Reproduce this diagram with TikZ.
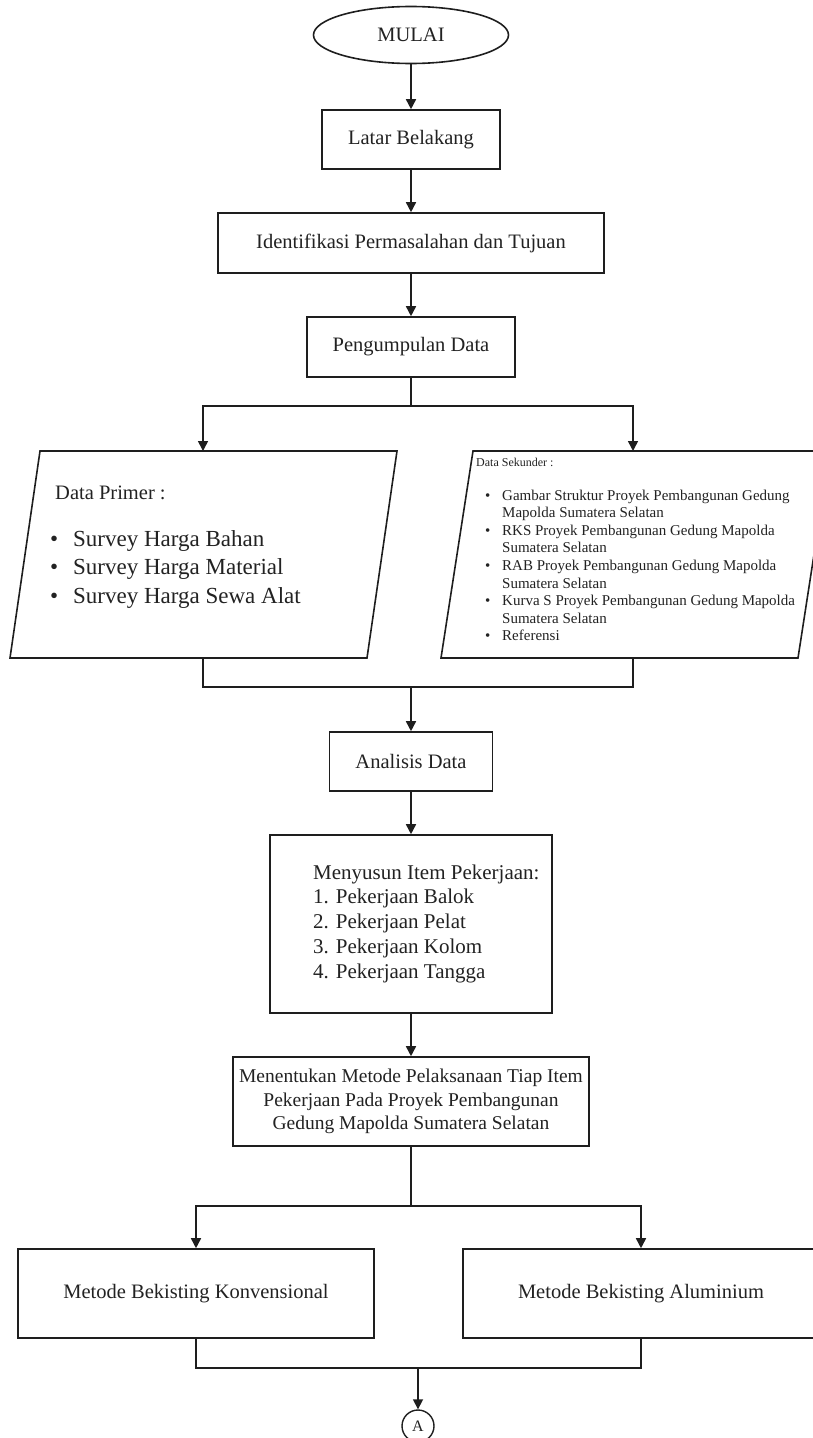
\documentclass[tikz,border=0pt]{standalone}
\usepackage{fontspec}
\setmainfont{Liberation Serif}
\usetikzlibrary{shapes.geometric,arrows.meta}
\definecolor{lc}{HTML}{1E1E1E}
\definecolor{tc}{HTML}{222222}
\begin{document}
\begin{tikzpicture}[x=1pt,y=-1pt,
  ln/.style={draw=lc, line width=1.6pt},
  arr/.style={ln, -{Triangle[length=10pt,width=10pt]}},
  box/.style={draw=lc, line width=1.6pt, rectangle, inner sep=2pt, text=tc,
    font=\fontsize{20.5}{24}\selectfont},
  txt/.style={inner sep=0pt, text=tc, anchor=base west}]
\useasboundingbox (0,0) rectangle (813,1438);
\clip (0,0) rectangle (813,1438);

% top chain
\node[ellipse, draw=lc, line width=1.6pt, minimum width=195pt, minimum height=57pt,
  inner sep=0pt, text=tc, font=\fontsize{20.5}{24}\selectfont] (mulai) at (411,35) {MULAI};
\node[box, minimum width=178pt, minimum height=59pt] (latar) at (411,139.5) {Latar Belakang};
\node[box, minimum width=386pt, minimum height=60pt] (ident) at (411,243) {Identifikasi Permasalahan dan Tujuan};
\node[box, minimum width=208pt, minimum height=60pt] (kumpul) at (411,347) {Pengumpulan Data};

% parallelograms
\draw[ln] (40,451) -- (397,451) -- (367,658) -- (10,658) -- cycle;
\draw[ln] (473,451) -- (830,451) -- (798,658) -- (441,658) -- cycle;
\coordinate (ptop) at (203,451);
\coordinate (pbot) at (203,658);
\coordinate (stop) at (633,451);
\coordinate (sbot) at (633,658);

\node[txt, font=\fontsize{20.5}{24}\selectfont] (primhead) at (55,499) {Data Primer :};
\node[txt, font=\fontsize{23}{28.5}\selectfont] (primlist) at (50,546)
  {\begin{tabular}[t]{@{}p{23pt}@{}l@{}}
   \textbullet & Survey Harga Bahan\\
   \textbullet & Survey Harga Material\\
   \textbullet & Survey Harga Sewa Alat
   \end{tabular}};

\node[txt, font=\fontsize{12}{14}\selectfont] (sekhead) at (476,466) {Data Sekunder :};
\node[txt, font=\fontsize{15}{17.6}\selectfont] (seklist) at (485,500)
  {\begin{tabular}[t]{@{}p{17pt}@{}l@{}}
   \textbullet & Gambar Struktur Proyek Pembangunan Gedung\\
   & Mapolda Sumatera Selatan\\
   \textbullet & RKS Proyek Pembangunan Gedung Mapolda\\
   & Sumatera Selatan\\
   \textbullet & RAB Proyek Pembangunan Gedung Mapolda\\
   & Sumatera Selatan\\
   \textbullet & Kurva S Proyek Pembangunan Gedung Mapolda\\
   & Sumatera Selatan\\
   \textbullet & Referensi
   \end{tabular}};

% middle chain
\node[box, minimum width=163pt, minimum height=59pt] (analisis) at (411,761.5) {Analisis Data};
\node[box, minimum width=282pt, minimum height=178pt] (susun) at (411,924) {};
\node[txt, font=\fontsize{21}{24.75}\selectfont] (susuntext) at (313,879)
  {\begin{tabular}[t]{@{}l@{}}
   Menyusun Item Pekerjaan:\\
   1. Pekerjaan Balok\\
   2. Pekerjaan Pelat\\
   3. Pekerjaan Kolom\\
   4. Pekerjaan Tangga
   \end{tabular}};
\node[box, minimum width=356pt, minimum height=89pt, align=center,
  font=\fontsize{19.5}{23.5}\selectfont] (tentu) at (411,1101.5)
  {Menentukan Metode Pelaksanaan Tiap Item\\ Pekerjaan Pada Proyek Pembangunan\\ Gedung Mapolda Sumatera Selatan};

% bottom
\node[box, minimum width=356pt, minimum height=89pt] (konv) at (196,1293.5) {Metode Bekisting Konvensional};
\node[box, minimum width=356pt, minimum height=89pt] (alum) at (641,1293.5) {Metode Bekisting Aluminium};
\node[circle, draw=lc, line width=1.4pt, minimum size=32pt, inner sep=0pt, text=tc,
  font=\fontsize{16}{18}\selectfont] (A) at (418,1426) {A};

% connectors
\draw[arr] (mulai) -- (latar);
\draw[arr] (latar) -- (ident);
\draw[arr] (ident) -- (kumpul);
\coordinate (b1) at (411,406);
\draw[ln] (kumpul.south) -- (b1);
\draw[arr] (b1) -| (ptop);
\draw[arr] (b1) -| (stop);
\coordinate (m1) at (411,687);
\draw[ln] (pbot) |- (m1) -| (sbot);
\draw[arr] (m1) -- (analisis.north);
\draw[arr] (analisis) -- (susun);
\draw[arr] (susun) -- (tentu);
\coordinate (b2) at (411,1206);
\draw[ln] (tentu.south) -- (b2);
\draw[arr] (b2) -| (konv.north);
\draw[arr] (b2) -| (alum.north);
\coordinate (m2) at (418,1368);
\draw[ln] (konv.south) |- (m2) -| (alum.south);
\draw[arr] (m2) -- (A.north);
\end{tikzpicture}
\end{document}
